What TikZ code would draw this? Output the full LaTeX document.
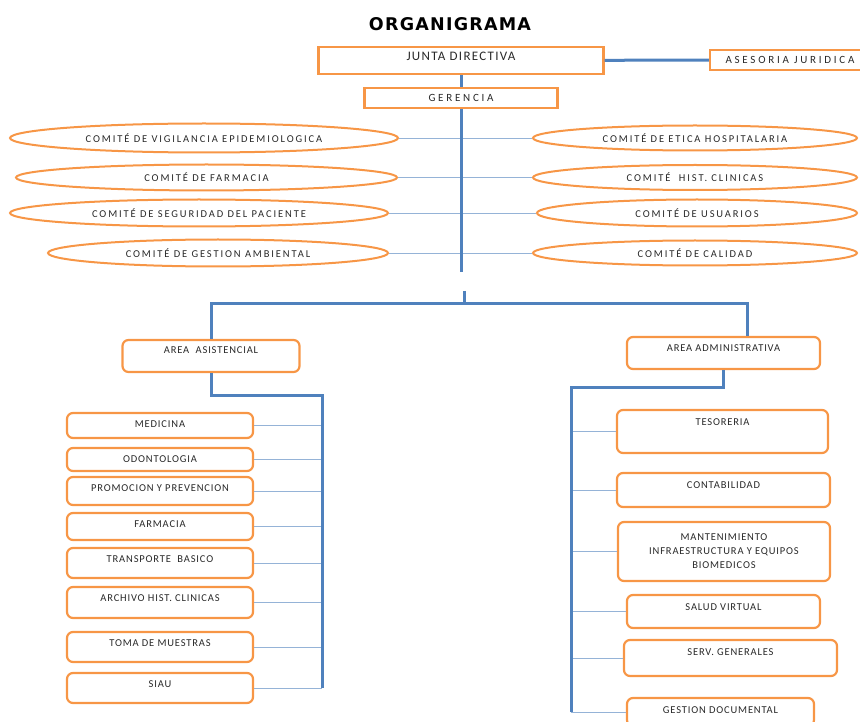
\documentclass[tikz,border=0pt]{standalone}
\usepackage{fontspec}
\setmainfont{Carlito}[LetterSpace=8]
\newfontfamily\comitefont{Carlito}[LetterSpace=18]
\newfontfamily\anchafont{Carlito}[LetterSpace=25]
\newfontfamily\titlefont{DejaVu Sans}[LetterSpace=7]
\usetikzlibrary{shapes.geometric}

\definecolor{naranja}{RGB}{247,150,70}
\definecolor{azul}{RGB}{79,129,189}
\definecolor{azulclaro}{RGB}{149,179,215}
\definecolor{texto}{RGB}{40,40,40}

\tikzset{
  recto/.style={draw=naranja, line width=2.2pt},
  caja/.style={draw=naranja, line width=2.2pt, rounded corners=6pt},
  comite/.style={ellipse, draw=naranja, line width=2pt, inner sep=0pt,
    font=\comitefont\fontsize{10.5}{12}\selectfont},
  ancha/.style={font=\anchafont\fontsize{11}{13}\selectfont},
  txt/.style={anchor=center, yshift=-12pt},
  tronco/.style={azul, line width=3pt},
  rama/.style={azulclaro, line width=0.9pt},
}

\begin{document}
\begin{tikzpicture}[x=1pt, y=-1pt, font=\fontsize{10.5}{12}\selectfont, text=texto]
\useasboundingbox (0,0) rectangle (860,722);
\clip (0,0) rectangle (860,722);

% cabecera
\node[font=\titlefont\bfseries\fontsize{17.5}{20}\selectfont, text=black] (titulo) at (450,24) {ORGANIGRAMA};
\node[recto, minimum width=285, minimum height=27,
  label={[txt, yshift=2pt, font=\fontsize{13}{15}\selectfont\addfontfeatures{LetterSpace=10}]north:JUNTA DIRECTIVA}] (junta) at (461,60.5) {};
\node[recto, ancha, minimum width=160, minimum height=20] (asesoria) at (790,60) {ASESORIA JURIDICA};
\node[recto, ancha, minimum width=193, minimum height=20] (gerencia) at (461,98) {GERENCIA};

% comites
\node[comite, minimum width=388, minimum height=29] (vigilancia) at (204,138) {COMITÉ DE VIGILANCIA EPIDEMIOLOGICA};
\node[comite, minimum width=381, minimum height=26] (cfarmacia) at (206.5,177.5) {COMITÉ DE FARMACIA};
\node[comite, minimum width=378, minimum height=27] (seguridad) at (199,213) {COMITÉ DE SEGURIDAD DEL PACIENTE};
\node[comite, minimum width=340, minimum height=27] (ambiental) at (218,253) {COMITÉ DE GESTION AMBIENTAL};
\node[comite, minimum width=324, minimum height=25] (etica) at (695,138) {COMITÉ DE ETICA HOSPITALARIA};
\node[comite, minimum width=324, minimum height=25] (historias) at (695,177.5) {COMITÉ\ \ HIST. CLINICAS};
\node[comite, minimum width=320, minimum height=27] (usuarios) at (697,213) {COMITÉ DE USUARIOS};
\node[comite, minimum width=324, minimum height=25] (calidad) at (695,253) {COMITÉ DE CALIDAD};

% areas
\node[caja, minimum width=177, minimum height=32, label={[txt, yshift=1pt]north:AREA\ \ ASISTENCIAL}] (asistencial) at (211,356) {};
\node[caja, minimum width=193, minimum height=32, label={[txt]north:AREA ADMINISTRATIVA}] (administrativa) at (723.5,353) {};

% dependencias area asistencial
\foreach \nombre/\texto/\y/\h in {medicina/MEDICINA/425.5/25, odontologia/ODONTOLOGIA/459.5/23,
    promocion/PROMOCION Y PREVENCION/491/28, farmacia/FARMACIA/526.5/27,
    transporte/TRANSPORTE\ \ BASICO/563/30, archivo/ARCHIVO HIST. CLINICAS/602.5/31,
    muestras/TOMA DE MUESTRAS/647/30, siau/SIAU/688/30}
  \node[caja, minimum width=186, minimum height=\h, label={[txt]north:\texto}] (\nombre) at (160,\y) {};

% dependencias area administrativa
\foreach \nombre/\texto/\x/\y/\w/\h in {tesoreria/TESORERIA/722.5/431.5/211/43,
    contabilidad/CONTABILIDAD/723.5/490/213/34, salud/SALUD VIRTUAL/723.5/611.5/193/33,
    servicios/SERV. GENERALES/730.5/658/213/36, gestion/GESTION DOCUMENTAL/720.5/712/187/28}
  \node[caja, minimum width=\w, minimum height=\h, label={[txt, yshift=-1pt]north:\texto}] (\nombre) at (\x,\y) {};
\node[caja, minimum width=212, minimum height=59, align=center, font=\fontsize{10.5}{14}\selectfont] (mantenimiento) at (724,551.5)
  {MANTENIMIENTO\\INFRAESTRUCTURA Y EQUIPOS\\BIOMEDICOS};

% puntos de la estructura
\coordinate (finT) at (461,272);
\coordinate (corte) at (464,291);
\coordinate (barra) at (464,304);
\coordinate (ramaA) at (322,395);
\coordinate (finA) at (322,688);
\coordinate (ramaB) at (571,387);
\coordinate (finB) at (571,712);

% lineas finas
\draw[rama] (vigilancia) -- (etica);
\draw[rama] (cfarmacia) -- (historias);
\draw[rama] (seguridad) -- (usuarios);
\draw[rama] (ambiental) -- (calidad);
\foreach \n in {medicina,odontologia,promocion,farmacia,transporte,archivo,muestras,siau}
  \draw[rama] (\n.east) -- (\n.east -| ramaA);
\foreach \n in {tesoreria,contabilidad,mantenimiento,salud,servicios,gestion}
  \draw[rama] (\n.west) -- (\n.west -| ramaB);

% lineas gruesas
\draw[tronco] (junta) -- (asesoria);
\draw[tronco] (junta) -- (gerencia);
\draw[tronco] (gerencia) -- (finT);
\draw[tronco] (corte) -- (barra);
\draw[tronco] (asistencial.north) |- (barra) -| ([xshift=24pt]administrativa.north);
\draw[tronco] (asistencial.south) |- (ramaA) -- (finA);
\draw[tronco] (administrativa.south) |- (ramaB) -- (finB);
\end{tikzpicture}
\end{document}
